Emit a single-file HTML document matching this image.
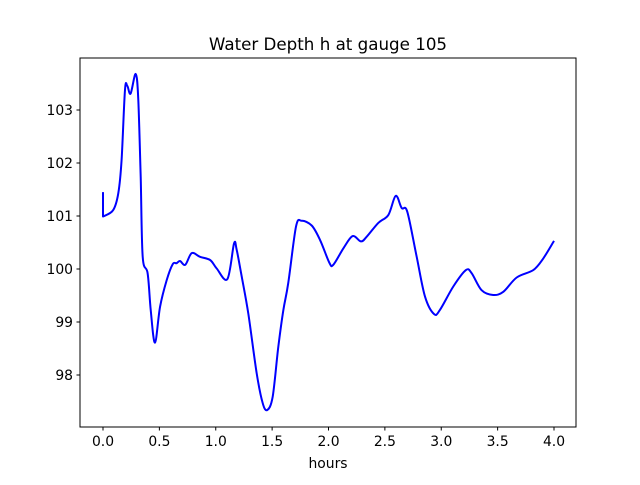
<!DOCTYPE html>
<html><head><meta charset="utf-8"><style>
body{margin:0;background:#fff;font-family:"Liberation Sans",sans-serif}
svg text{font-family:"DejaVu Sans","Liberation Sans",sans-serif;font-size:13.9px;fill:#000}
</style></head><body>
<svg id="chart" width="640" height="480">
<rect width="640" height="480" fill="#fff"/>
<text x="328" y="50" text-anchor="middle" style="font-size:16.7px">Water Depth h at gauge 105</text>
<g id="axes"></g>
<path id="line" fill="none" stroke="#0000ff" stroke-width="2" stroke-linejoin="round"/>
<rect x="80" y="58" width="496" height="369" fill="none" stroke="#000" stroke-width="1"/>
<text x="328" y="468" text-anchor="middle">hours</text>
</svg>
<script>
const hours=[0,0,0.09,0.136,0.165,0.195,0.216,0.245,0.29,0.313,0.334,0.352,0.396,0.423,0.461,0.506,0.565,0.618,0.653,0.683,0.73,0.787,0.86,0.95,1.008,1.103,1.162,1.186,1.23,1.289,1.363,1.416,1.457,1.505,1.555,1.60,1.643,1.712,1.762,1.851,1.925,2.007,2.043,2.132,2.214,2.288,2.339,2.442,2.531,2.596,2.649,2.699,2.782,2.856,2.936,2.989,3.107,3.219,3.27,3.358,3.461,3.55,3.669,3.816,3.905,4.0];
const depth=[101.45,100.99,101.11,101.43,102.06,103.38,103.45,103.31,103.68,103.19,101.74,100.23,99.92,99.23,98.61,99.29,99.79,100.09,100.11,100.15,100.08,100.30,100.23,100.17,100.01,99.81,100.48,100.36,99.86,99.16,98.03,97.47,97.34,97.59,98.53,99.23,99.73,100.80,100.91,100.82,100.55,100.12,100.08,100.39,100.62,100.52,100.61,100.87,101.02,101.38,101.15,101.08,100.23,99.48,99.15,99.23,99.67,99.98,99.92,99.60,99.51,99.57,99.84,99.98,100.20,100.53];
const xTicks=[0,0.5,1,1.5,2,2.5,3,3.5,4];
const xTickLabels=["0.0","0.5","1.0","1.5","2.0","2.5","3.0","3.5","4.0"];
const yTicks=[98,99,100,101,102,103];
const yTickLabels=["98","99","100","101","102","103"];
const X=h=>103+h*112.75;
const Y=v=>110-(v-103)*53;
const ns="http://www.w3.org/2000/svg";
const g=document.getElementById('axes');
function mk(t,a){const e=document.createElementNS(ns,t);for(const k in a)e.setAttribute(k,a[k]);g.appendChild(e);return e;}
xTicks.forEach((t,i)=>{
 const l=mk('line',{x1:X(t),x2:X(t),y1:427,y2:430.5,stroke:'#000'});
 
 
 const tx=mk('text',{x:X(t),y:446,'text-anchor':'middle'});tx.textContent=xTickLabels[i];
 
 
});
yTicks.forEach((t,i)=>{
 const l=mk('line',{x1:76.5,x2:80,y1:Y(t),y2:Y(t),stroke:'#000'});
 
 
 const tx=mk('text',{x:73,y:Y(t)+5,'text-anchor':'end'});tx.textContent=yTickLabels[i];
 
 
});
const P=hours.map((h,i)=>[X(h),Y(depth[i])]);
let d='M'+P[0][0].toFixed(1)+' '+P[0][1].toFixed(1)+' L'+P[1][0].toFixed(1)+' '+P[1][1].toFixed(1);
for(let i=1;i<P.length-1;i++){
 const p0=P[Math.max(1,i-1)],p1=P[i],p2=P[i+1],p3=P[Math.min(P.length-1,i+2)];
 const c1=[p1[0]+(p2[0]-p0[0])/6,p1[1]+(p2[1]-p0[1])/6];
 const c2=[p2[0]-(p3[0]-p1[0])/6,p2[1]-(p3[1]-p1[1])/6];
 d+=' C'+c1[0].toFixed(1)+' '+c1[1].toFixed(1)+' '+c2[0].toFixed(1)+' '+c2[1].toFixed(1)+' '+p2[0].toFixed(1)+' '+p2[1].toFixed(1);
}
document.getElementById('line').setAttribute('d',d);
</script>
</body></html>
